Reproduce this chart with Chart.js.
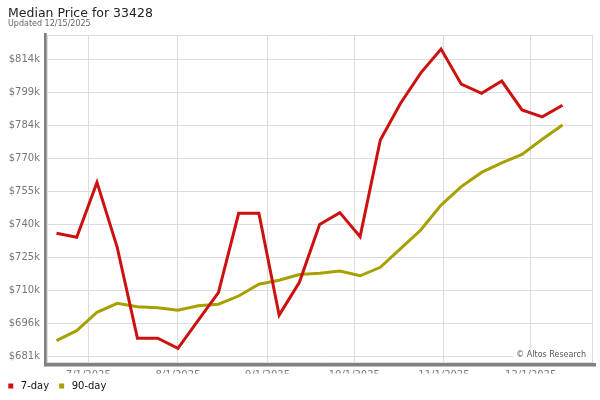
<!DOCTYPE html>
<html>
<head>
<meta charset="utf-8">
<title>Median Price for 33428</title>
<script src="https://cdn.jsdelivr.net/npm/chart.js@4.4.0/dist/chart.umd.min.js"></script>
<style>
  html, body { margin: 0; padding: 0; background: #fff; }
</style>
</head>
<body>
<canvas id="chart" width="600" height="400"></canvas>
<script>
// weekly sample dates
const dates = ['2025-06-20', '2025-06-27', '2025-07-04', '2025-07-11', '2025-07-18', '2025-07-25',
  '2025-08-01', '2025-08-08', '2025-08-15', '2025-08-22', '2025-08-29', '2025-09-05', '2025-09-12',
  '2025-09-19', '2025-09-26', '2025-10-03', '2025-10-10', '2025-10-17', '2025-10-24', '2025-10-31',
  '2025-11-07', '2025-11-14', '2025-11-21', '2025-11-28', '2025-12-05', '2025-12-12'];

// median price, 7-day and 90-day averages
const sevenDay = [736000, 734200, 758900, 729700, 688800, 688800, 684300, 696800, 709300, 745000,
  745000, 699200, 714000, 740000, 745300, 734500, 778000, 794500, 808200, 818900,
  803100, 799000, 804500, 791500, 788400, 793600];
const ninetyDay = [687700, 692200, 700500, 704500, 703000, 702500, 701400, 703400, 704100, 707800,
  713100, 714900, 717500, 718000, 719000, 716900, 720700, 729100, 737500, 748700,
  757000, 763400, 767700, 771500, 778300, 784700];

// axis ticks
const yTicks = [680800, 695600, 710400, 725200, 740000, 754800, 769600, 784400, 799200, 814000];
const xTicks = ['2025-07-01', '2025-08-01', '2025-09-01', '2025-10-01', '2025-11-01', '2025-12-01'];

const toDay = s => Date.parse(s + 'T00:00:00Z') / 86400000;
const fmtDay = d => {
  const t = new Date(Math.round(d) * 86400000);
  return (t.getUTCMonth() + 1) + '/' + t.getUTCDate() + '/' + t.getUTCFullYear();
};

const RED = '#cc1111';
const OLIVE = '#a8a000';
const jul1 = toDay('2025-07-01');

Chart.defaults.font.family = "'DejaVu Sans', sans-serif";
Chart.defaults.color = '#777';

// gray frame, top/right border and watermark
const frame = {
  id: 'frame',
  afterLayout(chart) {
    // legend starts at the page edge, not at the title indent
    chart.legend.left -= 9.7;
    chart.legend.right -= 9.7;
  },
  beforeDatasetsDraw(chart) {
    const {ctx, chartArea: a} = chart;
    ctx.save();
    ctx.strokeStyle = '#dddddd';
    ctx.lineWidth = 1;
    ctx.beginPath();
    ctx.moveTo(a.left, a.top + 0.5);
    ctx.lineTo(a.right, a.top + 0.5);
    ctx.moveTo(a.right - 0.5, a.top);
    ctx.lineTo(a.right - 0.5, a.bottom);
    ctx.stroke();
    ctx.restore();
  },
  afterDraw(chart) {
    const {ctx, chartArea: a} = chart;
    ctx.save();
    ctx.font = "8px 'DejaVu Sans', sans-serif";
    const txt = '\u00a9 Altos Research';
    const w = ctx.measureText(txt).width;
    const tx = a.right - 7;
    ctx.fillStyle = '#fff';
    ctx.fillRect(tx - w - 3, a.bottom - 12.5, a.right - 1 - (tx - w - 3), 12);
    ctx.fillStyle = '#555';
    ctx.textAlign = 'right';
    ctx.textBaseline = 'middle';
    ctx.fillText(txt, tx, a.bottom - 7.5);

    ctx.fillStyle = '#808080';
    ctx.fillRect(a.left - 3.5, a.top - 2, 2.7, a.bottom - a.top + 5.5);
    ctx.fillRect(a.left - 3.5, a.bottom + 0.5, a.right - a.left + 6.5, 3.5);
    ctx.restore();
  }
};

const ctx = document.getElementById('chart').getContext('2d');
const chart = new Chart(ctx, {
  type: 'line',
  data: {
    datasets: [{
      label: '7-day',
      data: dates.map((d, i) => ({x: toDay(d), y: sevenDay[i]})),
      borderColor: RED,
      backgroundColor: RED,
      borderWidth: 3,
      pointRadius: 0,
      pointBorderWidth: 0,
      tension: 0
    }, {
      label: '90-day',
      data: dates.map((d, i) => ({x: toDay(d), y: ninetyDay[i]})),
      borderColor: OLIVE,
      backgroundColor: OLIVE,
      borderWidth: 3,
      pointRadius: 0,
      pointBorderWidth: 0,
      tension: 0
    }]
  },
  options: {
    responsive: false,
    animation: false,
    layout: { padding: { left: 8, right: 7, top: 0, bottom: -1 } },
    scales: {
      x: {
        type: 'linear',
        min: jul1 - 14.11,
        max: jul1 + 174.55,
        afterFit: s => { s.height = 11; },
        afterBuildTicks: s => { s.ticks = xTicks.map(d => ({value: toDay(d)})); },
        grid: { color: '#dddddd', drawTicks: false },
        border: { color: '#dddddd' },
        ticks: {
          padding: 6.5,
          maxRotation: 0,
          autoSkip: false,
          font: { size: 10 },
          callback: v => fmtDay(v)
        }
      },
      y: {
        min: 677900,
        max: 825200,
        afterFit: s => { s.width = 39.5; },
        afterBuildTicks: s => { s.ticks = yTicks.map(v => ({value: v})); },
        grid: { color: '#dddddd', drawTicks: false },
        border: { color: '#dddddd' },
        ticks: {
          padding: 7.5,
          font: { size: 10 },
          callback: v => '$' + Math.round(v / 1000) + 'k'
        }
      }
    },
    plugins: {
      title: {
        display: true,
        text: 'Median Price for 33428',
        align: 'start',
        color: '#222',
        font: { size: 12.5, weight: 'normal', lineHeight: 1 },
        padding: { top: 7.5, bottom: 0 }
      },
      subtitle: {
        display: true,
        text: 'Updated 12/15/2025',
        align: 'start',
        color: '#666',
        font: { size: 8, lineHeight: 1 },
        padding: { top: 0, bottom: 7 }
      },
      legend: {
        position: 'bottom',
        align: 'start',
        labels: {
          color: '#111',
          font: { size: 10 },
          usePointStyle: true,
          pointStyle: 'rect',
          boxWidth: 10,
          boxHeight: 5,
          padding: 7.5
        }
      },
      tooltip: { enabled: false }
    }
  },
  plugins: [frame]
});
</script>
</body>
</html>
